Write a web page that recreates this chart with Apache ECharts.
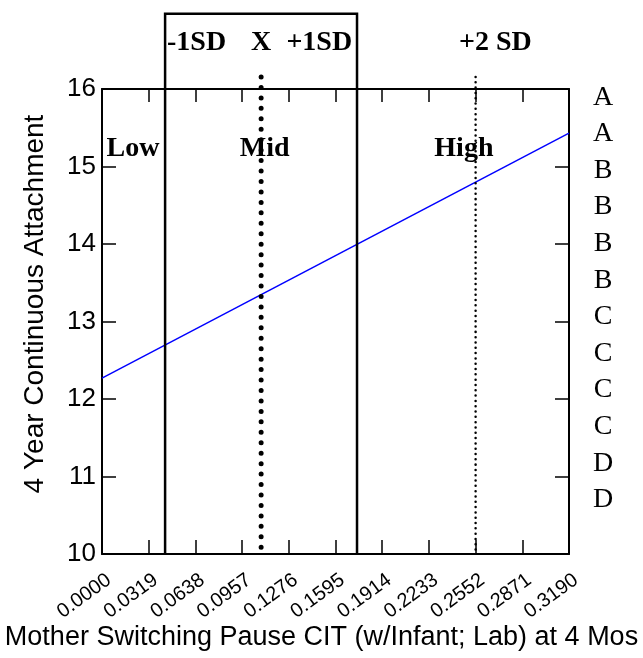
<!DOCTYPE html>
<html>
<head>
<meta charset="utf-8">
<script src="https://cdn.jsdelivr.net/npm/echarts@6/dist/echarts.min.js"></script>
<style>
html,body{margin:0;padding:0;background:#fff;}
#chart{width:643px;height:658px;}
</style>
</head>
<body>
<div id="chart"></div>
<script>
// ---- data ----
const xTickLabels = ['0.0000','0.0319','0.0638','0.0957','0.1276','0.1595','0.1914','0.2233','0.2552','0.2871','0.3190'];
const xTickValues = [0, 0.0319, 0.0638, 0.0957, 0.1276, 0.1595, 0.1914, 0.2233, 0.2552, 0.2871, 0.319];
const xMin = 0, xMax = 0.319, xStep = 0.0319;
const yMin = 10, yMax = 16, yStep = 1;
const lineX = [0, 0.319];
const lineY = [12.27, 15.43];
// reference positions: -1SD, mean (X), +1SD, +2SD
const refX = [0.0431, 0.1087, 0.1742, 0.2552];
const boxTop = 16.97;     // top of the -1SD..+1SD box (y units)
const dotTop = 16.155;    // top of dotted lines (y units)
const headLabels = ['-1SD', 'X', '+1SD', '+2 SD'];
const headLabelX = [0.0646, 0.1087, 0.1484, 0.2687];
const headLabelY = 16.594;
const zoneLabels = ['Low', 'Mid', 'High'];
const zoneLabelX = [0.0212, 0.1111, 0.2472];
const zoneLabelY = 15.226;
const rightLetters = ['A','A','B','B','B','B','C','C','C','C','D','D'];
const xTitle = 'Mother Switching Pause CIT (w/Infant; Lab) at 4 Mos';
const yTitle = '4 Year Continuous Attachment';

const chart = echarts.init(document.getElementById('chart'), null, {renderer: 'canvas'});
const serifBold = {fontFamily: 'Liberation Serif', fontWeight: 'bold', fontSize: 28, fill: '#000'};
const labelAngle = 36 * Math.PI / 180;

function vLine(api, x, top, style) {
  const a = api.coord([x, top]);
  const b = api.coord([x, yMin]);
  return {type: 'line', shape: {x1: a[0], y1: a[1], x2: b[0], y2: b[1]}, style: style};
}

const option = {
  animation: false,
  grid: {left: 102, right: 74, top: 89, bottom: 104, containLabel: false},
  xAxis: [{
    type: 'value', min: xMin, max: xMax, interval: xStep, position: 'bottom',
    axisLine: {show: true, onZero: false, lineStyle: {color: '#000', width: 2}},
    axisTick: {show: true, inside: true, length: 14, lineStyle: {color: '#000', width: 1.5}},
    splitLine: {show: false},
    axisLabel: {show: false}
  }, {
    type: 'value', min: xMin, max: xMax, interval: xStep, position: 'top',
    axisLine: {show: true, onZero: false, lineStyle: {color: '#000', width: 2}},
    axisTick: {show: true, inside: true, length: 13, lineStyle: {color: '#000', width: 1.5}},
    splitLine: {show: false}, axisLabel: {show: false}
  }],
  yAxis: [{
    type: 'value', min: yMin, max: yMax, interval: yStep, position: 'left',
    axisLine: {show: true, onZero: false, lineStyle: {color: '#000', width: 2}},
    axisTick: {show: true, inside: true, length: 14, lineStyle: {color: '#000', width: 1.5}},
    splitLine: {show: false},
    axisLabel: {margin: 6, color: '#000', fontFamily: 'Liberation Sans', fontSize: 26}
  }, {
    type: 'value', min: yMin, max: yMax, interval: yStep, position: 'right',
    axisLine: {show: true, onZero: false, lineStyle: {color: '#000', width: 2}},
    axisTick: {show: true, inside: true, length: 14, lineStyle: {color: '#000', width: 1.5}},
    splitLine: {show: false}, axisLabel: {show: false}
  }],
  series: [
    {
      type: 'line', xAxisIndex: 0, yAxisIndex: 0, symbol: 'none', silent: true,
      data: lineX.map((x, i) => [x, lineY[i]]),
      lineStyle: {color: '#0000ff', width: 1.5}, z: 5
    },
    {
      // box from -1SD to +1SD
      type: 'custom', xAxisIndex: 0, yAxisIndex: 0, clip: false, silent: true, z: 6,
      data: [[refX[0], refX[2], boxTop]],
      renderItem: function (params, api) {
        const x1 = api.value(0), x2 = api.value(1), t = api.value(2);
        const p = [api.coord([x1, yMin]), api.coord([x1, t]), api.coord([x2, t]), api.coord([x2, yMin])];
        return {type: 'polyline', shape: {points: p}, style: {stroke: '#000', lineWidth: 2.5, fill: null}};
      }
    },
    {
      // mean dotted line (large dots)
      type: 'custom', xAxisIndex: 0, yAxisIndex: 0, clip: false, silent: true, z: 6,
      data: [[refX[1], dotTop]],
      renderItem: function (params, api) {
        return vLine(api, api.value(0), api.value(1),
          {stroke: '#000', lineWidth: 5, lineCap: 'round', lineDash: [0.01, 10.44]});
      }
    },
    {
      // +2SD dotted line (small dots)
      type: 'custom', xAxisIndex: 0, yAxisIndex: 0, clip: false, silent: true, z: 6,
      data: [[refX[3], dotTop]],
      renderItem: function (params, api) {
        return vLine(api, api.value(0), api.value(1),
          {stroke: '#000', lineWidth: 2.5, lineCap: 'round', lineDash: [0.01, 5.3]});
      }
    },
    {
      // header labels
      type: 'custom', xAxisIndex: 0, yAxisIndex: 0, clip: false, silent: true, z: 7,
      data: headLabelX.map(x => [x, headLabelY]),
      renderItem: function (params, api) {
        const c = api.coord([api.value(0), api.value(1)]);
        return {type: 'text', x: c[0], y: c[1],
          style: Object.assign({text: headLabels[params.dataIndex], align: 'center', verticalAlign: 'middle'}, serifBold)};
      }
    },
    {
      // zone labels
      type: 'custom', xAxisIndex: 0, yAxisIndex: 0, clip: false, silent: true, z: 7,
      data: zoneLabelX.map(x => [x, zoneLabelY]),
      renderItem: function (params, api) {
        const c = api.coord([api.value(0), api.value(1)]);
        return {type: 'text', x: c[0], y: c[1],
          style: Object.assign({text: zoneLabels[params.dataIndex], align: 'center', verticalAlign: 'middle'}, serifBold)};
      }
    },
    {
      // rotated x tick labels, anchored at each tick through the x scale
      type: 'custom', xAxisIndex: 0, yAxisIndex: 0, clip: false, silent: true, z: 7,
      data: xTickValues.map(v => [v, yMin]),
      renderItem: function (params, api) {
        const c = api.coord([api.value(0), api.value(1)]);
        return {type: 'text', x: c[0] + 7, y: c[1] + 24, rotation: labelAngle,
          style: {text: xTickLabels[params.dataIndex], align: 'right', verticalAlign: 'middle',
            fontFamily: 'Liberation Sans', fontSize: 20, fill: '#000'}};
      }
    }
  ],
  graphic: [
    {type: 'text', left: 'center', top: 624, silent: true,
      style: {text: xTitle, fontFamily: 'Liberation Sans', fontSize: 27, fill: '#000'}},
    {type: 'text', x: 35, y: 304, rotation: Math.PI / 2, silent: true,
      style: {text: yTitle, fontFamily: 'Liberation Sans', fontSize: 28, fill: '#000', align: 'center', verticalAlign: 'middle'}},
    {type: 'text', x: 603, y: 79, silent: true,
      style: {text: rightLetters.join('\n'), fontFamily: 'Liberation Serif', fontSize: 28, lineHeight: 36.6,
        fill: '#000', align: 'center', verticalAlign: 'top'}}
  ]
};
chart.setOption(option);
</script>
</body>
</html>
